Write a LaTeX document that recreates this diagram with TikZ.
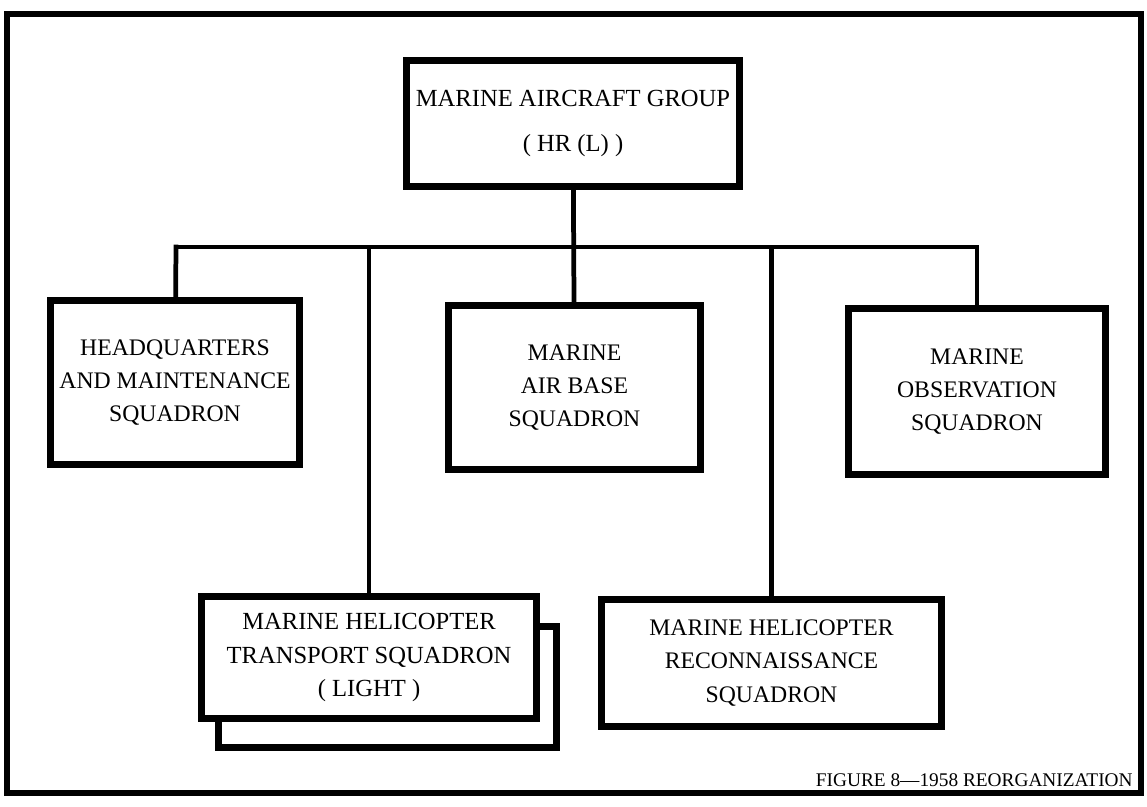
\documentclass[tikz,border=0pt]{standalone}
\usepackage{fontspec}
\setmainfont{Liberation Serif}
\begin{document}
\begin{tikzpicture}[x=0.02cm,y=-0.02cm]
    \useasboundingbox (0,0) rectangle (1147,807);
    \draw[line width=2.9pt] (7,14) rectangle (1141,793);
    \begin{scope}[every node/.style={rectangle,draw,line width=3.7pt,fill=white,align=center,inner sep=0pt,font=\fontsize{13.5}{19}\selectfont}]
        \node (grp) [minimum width=6.66cm,minimum height=2.52cm,font=\fontsize{14}{25.5}\selectfont] at (573,123.5) {MARINE AIRCRAFT GROUP\\( HR (L) )};
        \node (hq) [minimum width=4.98cm,minimum height=3.28cm] at (175,382.5) {HEADQUARTERS\\AND MAINTENANCE\\SQUADRON};
        \node (airbase) [minimum width=5.04cm,minimum height=3.28cm,font=\fontsize{13.5}{19}\selectfont] at (574.5,387.5) {MARINE\\AIR BASE\\SQUADRON};
        \node (obs) [minimum width=5.14cm,minimum height=3.32cm,font=\fontsize{13.5}{19}\selectfont] at (977,391.5) {MARINE\\OBSERVATION\\SQUADRON};
        \node (shadow) [minimum width=6.76cm,minimum height=2.42cm] at (387.5,687) {};
        \node (transport) [minimum width=6.7cm,minimum height=2.44cm,font=\fontsize{14}{19}\selectfont] at (369,657.5) {MARINE HELICOPTER\\TRANSPORT SQUADRON\\( LIGHT )};
        \node (recon) [minimum width=6.8cm,minimum height=2.54cm] at (771.5,663) {MARINE HELICOPTER\\RECONNAISSANCE\\SQUADRON};
    \end{scope}
    \coordinate (busL) at (176,247);
    \coordinate (busR) at (977,247);
    \begin{scope}[every edge/.style={draw,line width=2.7pt,line cap=rect}]
        \path
            (grp) edge (airbase)
            (busL) edge (busR)
            (busL) edge (hq)
            (busR) edge (obs)
            (transport.north) edge (transport.north |- busL)
            (recon.north) edge (recon.north |- busL);
    \end{scope}
    \node (caption) [anchor=base east,inner sep=0pt,font=\fontsize{11}{13}\selectfont] at (1133,786) {FIGURE 8---1958 REORGANIZATION};
\end{tikzpicture}
\end{document}
